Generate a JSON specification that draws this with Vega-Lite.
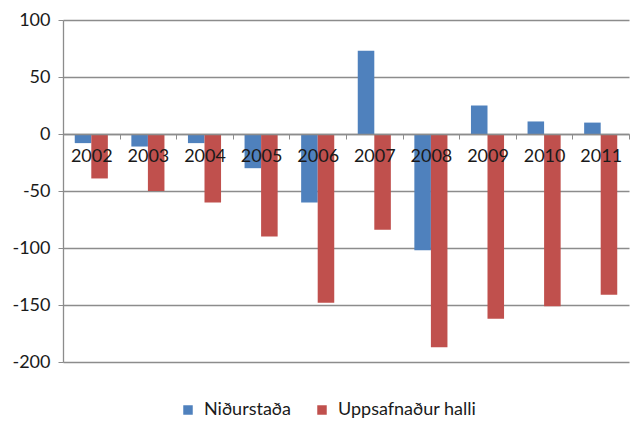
{
  "$schema": "https://vega.github.io/schema/vega-lite/v6.json",
  "width": 566,
  "height": 342,
  "autosize": {"type": "none"},
  "padding": {"left": 63, "top": 20, "right": 2, "bottom": 59},
  "background": "white",
  "config": {"view": {"stroke": null}, "font": "Lato"},
  "data": {"values": [
    {"year": "2002", "series": "Niðurstaða", "value": -8},
    {"year": "2002", "series": "Uppsafnaður halli", "value": -39},
    {"year": "2003", "series": "Niðurstaða", "value": -11},
    {"year": "2003", "series": "Uppsafnaður halli", "value": -50},
    {"year": "2004", "series": "Niðurstaða", "value": -8},
    {"year": "2004", "series": "Uppsafnaður halli", "value": -60},
    {"year": "2005", "series": "Niðurstaða", "value": -30},
    {"year": "2005", "series": "Uppsafnaður halli", "value": -90},
    {"year": "2006", "series": "Niðurstaða", "value": -60},
    {"year": "2006", "series": "Uppsafnaður halli", "value": -148},
    {"year": "2007", "series": "Niðurstaða", "value": 73},
    {"year": "2007", "series": "Uppsafnaður halli", "value": -84},
    {"year": "2008", "series": "Niðurstaða", "value": -102},
    {"year": "2008", "series": "Uppsafnaður halli", "value": -187},
    {"year": "2009", "series": "Niðurstaða", "value": 25},
    {"year": "2009", "series": "Uppsafnaður halli", "value": -162},
    {"year": "2010", "series": "Niðurstaða", "value": 11},
    {"year": "2010", "series": "Uppsafnaður halli", "value": -151},
    {"year": "2011", "series": "Niðurstaða", "value": 10},
    {"year": "2011", "series": "Uppsafnaður halli", "value": -141}
  ]},
  "mark": {"type": "bar"},
  "encoding": {
    "x": {
      "field": "year", "type": "nominal",
      "scale": {"paddingInner": 0, "paddingOuter": 0},
      "axis": {
        "title": null, "labelAngle": 0, "offset": -228, "zindex": 1,
        "domainColor": "#8c8c8c", "domainWidth": 1.3,
        "tickBand": "extent", "tickSize": 5, "tickColor": "#8c8c8c",
        "labelFontSize": 18, "labelColor": "#1a1a1a", "labelPadding": 8,
        "labelFont": "Lato"
      }
    },
    "xOffset": {
      "field": "series", "type": "nominal",
      "scale": {"paddingInner": 0, "paddingOuter": 0.71}
    },
    "y": {
      "field": "value", "type": "quantitative",
      "scale": {"domain": [-200, 100], "nice": false, "zero": false},
      "axis": {
        "title": null, "values": [-200, -150, -100, -50, 0, 50, 100],
        "labelExpr": "datum.value + ''",
        "grid": true, "gridColor": "#8c8c8c", "gridWidth": 1.3,
        "domainColor": "#8c8c8c", "domainWidth": 1.3,
        "tickColor": "#8c8c8c", "tickSize": 5,
        "labelFontSize": 18, "labelColor": "#1a1a1a", "labelPadding": 8,
        "labelFont": "Lato"
      }
    },
    "color": {
      "field": "series", "type": "nominal",
      "scale": {"domain": ["Niðurstaða", "Uppsafnaður halli"], "range": ["#4F81BD", "#C0504D"]},
      "legend": {
        "title": null, "orient": "none", "direction": "horizontal",
        "legendX": 116, "legendY": 381,
        "symbolType": "square", "symbolSize": 90, "symbolStrokeWidth": 0,
        "labelFontSize": 18, "labelColor": "#1a1a1a", "labelFont": "Lato",
        "columnPadding": 22, "labelOffset": 7
      }
    }
  }
}
